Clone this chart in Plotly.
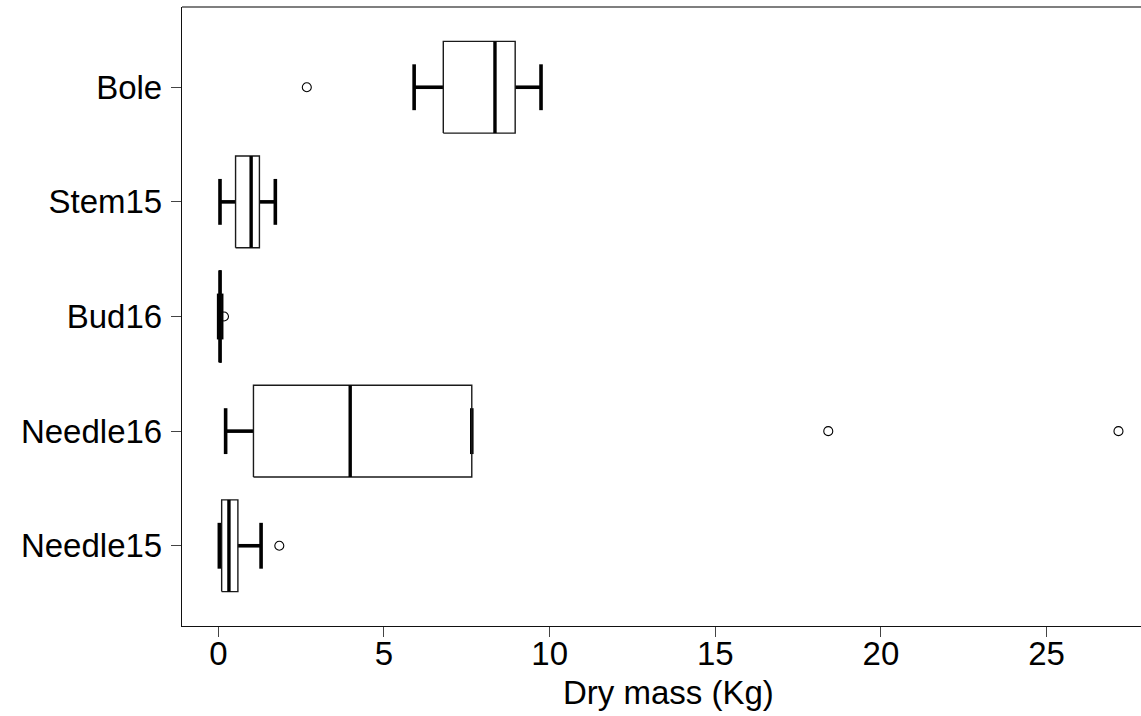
import plotly.graph_objects as go

# Dry mass per tree component (kg): five-number summaries and outliers
categories = ["Needle15", "Needle16", "Bud16", "Stem15", "Bole"]
lower_whisker = [0.03, 0.22, 0.01, 0.05, 5.91]
q1 = [0.10, 1.06, 0.03, 0.52, 6.79]
median = [0.32, 3.98, 0.05, 0.99, 8.35]
q3 = [0.59, 7.65, 0.08, 1.24, 8.96]
upper_whisker = [1.29, 7.65, 0.10, 1.72, 9.74]
outlier_group = ["Needle15", "Needle16", "Needle16", "Bud16", "Bole"]
outlier_value = [1.84, 18.41, 27.17, 0.17, 2.67]

x_ticks = [0, 5, 10, 15, 20, 25]

pos = {c: i + 1 for i, c in enumerate(categories)}
BOX_HALF = 0.4
CAP_HALF = 0.2

box_x, box_y = [], []
med_x, med_y = [], []
wh_x, wh_y = [], []
for c, lo, a, m, b, hi in zip(categories, lower_whisker, q1, median, q3, upper_whisker):
    p = pos[c]
    box_x += [a, b, b, a, a, None]
    box_y += [p - BOX_HALF, p - BOX_HALF, p + BOX_HALF, p + BOX_HALF, p - BOX_HALF, None]
    med_x += [m, m, None]
    med_y += [p - BOX_HALF, p + BOX_HALF, None]
    # lower whisker and cap
    wh_x += [a, lo, None, lo, lo, None]
    wh_y += [p, p, None, p - CAP_HALF, p + CAP_HALF, None]
    # upper whisker and cap
    wh_x += [b, hi, None, hi, hi, None]
    wh_y += [p, p, None, p - CAP_HALF, p + CAP_HALF, None]

fig = go.Figure()
fig.add_trace(go.Scatter(x=wh_x, y=wh_y, mode="lines",
                         line=dict(color="black", width=3.6), hoverinfo="skip"))
fig.add_trace(go.Scatter(x=box_x, y=box_y, mode="lines",
                         line=dict(color="#1a1a1a", width=1.4), hoverinfo="skip"))
fig.add_trace(go.Scatter(x=med_x, y=med_y, mode="lines",
                         line=dict(color="black", width=3.4), hoverinfo="skip"))
fig.add_trace(go.Scatter(x=outlier_value, y=[pos[g] for g in outlier_group], mode="markers",
                         marker=dict(symbol="circle-open", size=9, color="black",
                                     line=dict(width=1.1))))

font = "Liberation Sans, Arial, Helvetica, sans-serif"
FS = 33
fig.update_layout(
    width=1141, height=716,
    margin=dict(l=182, r=0, t=7, b=90),
    paper_bgcolor="white", plot_bgcolor="white",
    showlegend=False,
    font=dict(family=font, size=FS, color="black"),
    xaxis=dict(range=[-1.097, 27.85], tickvals=x_ticks, ticks="outside", ticklen=10,
               tickcolor="#444", tickwidth=1.2, showgrid=False, zeroline=False,
               ticklabelstandoff=-12,
               showline=True, linecolor="#111", linewidth=1.4,
               tickfont=dict(size=FS, family=font, color="black")),
    yaxis=dict(range=[0.3, 5.7], tickvals=[pos[c] for c in categories], ticktext=categories,
               ticks="outside", ticklen=10, tickcolor="#444", tickwidth=1.2,
               ticklabelstandoff=2,
               showgrid=False, zeroline=False, showline=True, linecolor="#111", linewidth=1.4,
               tickfont=dict(size=FS, family=font, color="black")),
    shapes=[dict(type="line", xref="paper", yref="paper", x0=0, x1=1, y0=1, y1=1,
                 line=dict(color="#555", width=1.4))],
    annotations=[dict(text="Dry mass (Kg)", xref="paper", yref="paper",
                      x=0.5068, y=-0.0743, xanchor="center", yanchor="top",
                      showarrow=False, font=dict(size=FS, family=font, color="black"))],
)

fig.write_html("out.html")
